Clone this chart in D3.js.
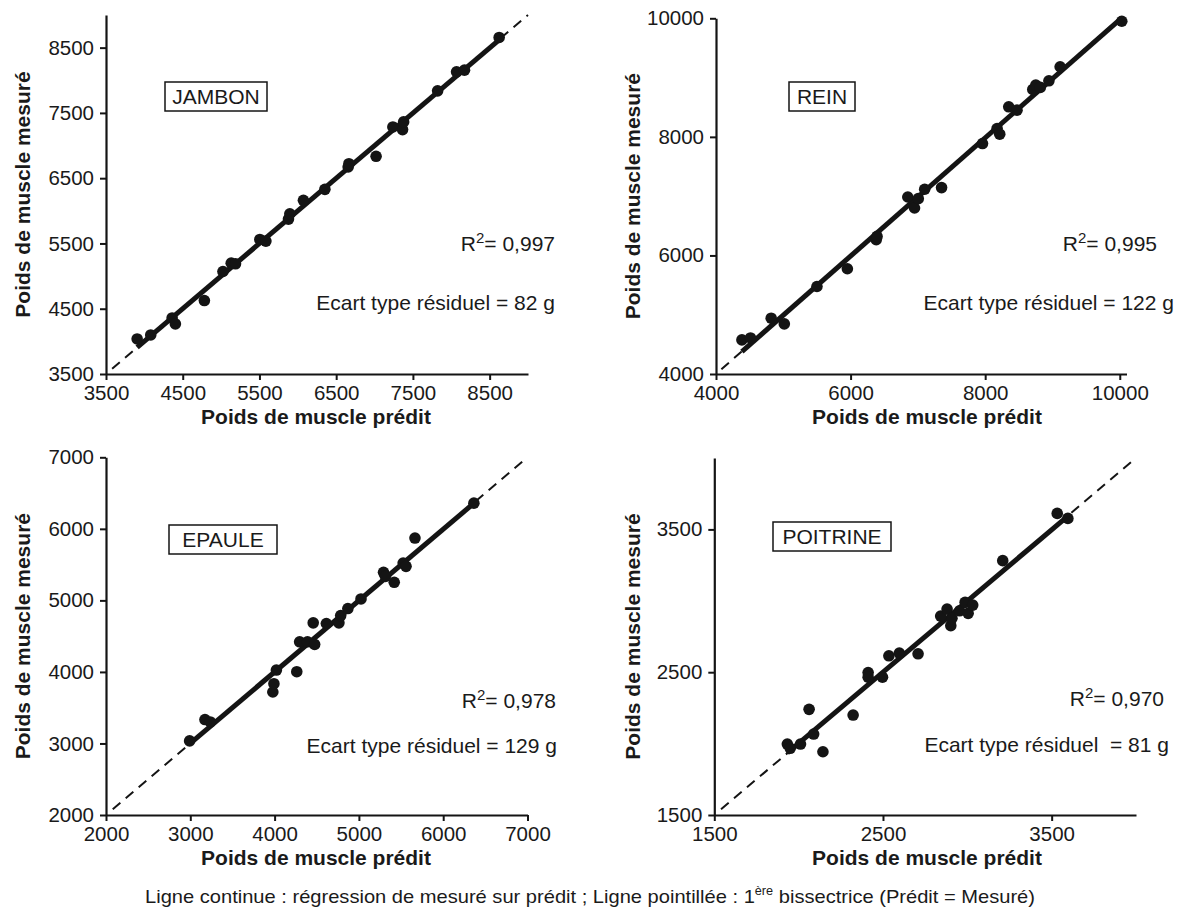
<!DOCTYPE html>
<html><head><meta charset="utf-8">
<script src="https://cdn.jsdelivr.net/npm/d3@7"></script>
<style>
body{margin:0;background:#fff;}
svg{display:block;}
text{font-family:"Liberation Sans",Arial,Helvetica,sans-serif;fill:#1a1a1a;}
</style></head><body>
<svg id="chart" width="1178" height="910"></svg>
<script>
// ---------- DATA ----------
const panelNames = ["JAMBON", "REIN", "EPAULE", "POITRINE"];
const r2Labels = ["0,997", "0,995", "0,978", "0,970"];
const sdLabels = ["Ecart type résiduel = 82 g", "Ecart type résiduel = 122 g", "Ecart type résiduel = 129 g", "Ecart type résiduel  = 81 g"];

const jambonPred = [3906,4083,4362,4404,4782,5024,5132,5188,5505,5584,5878,5896,6073,6353,6656,6666,7020,7239,7365,7379,7822,8069,8172,8624];
const jambonMes  = [4037,4098,4359,4267,4625,5070,5198,5188,5561,5536,5873,5955,6160,6329,6671,6722,6835,7285,7244,7362,7838,8129,8155,8656];

const reinPred = [4385,4513,4820,5015,5500,5952,6381,6393,6850,6950,7006,7101,7352,7960,8177,8216,8350,8473,8707,8752,8819,8947,9114,10030];
const reinMes  = [4575,4608,4941,4845,5476,5775,6265,6321,6986,6800,6958,7116,7144,7887,8141,8045,8507,8451,8800,8873,8834,8946,9183,9950];

const epaulePred = [2992,3174,3237,3979,3992,4021,4263,4297,4390,4458,4475,4614,4763,4784,4869,5025,5292,5314,5419,5525,5559,5665,6364];
const epauleMes  = [3036,3334,3301,3719,3835,4026,4003,4421,4421,4686,4384,4677,4686,4788,4886,5020,5392,5336,5253,5522,5476,5871,6359];

const poitrinePred = [1933,1950,2011,2062,2089,2144,2323,2412,2412,2497,2535,2597,2708,2842,2880,2902,2909,2954,2987,3005,3032,3210,3533,3596];
const poitrineMes  = [1997,1967,1997,2240,2067,1943,2200,2498,2465,2465,2615,2634,2629,2893,2942,2826,2877,2930,2989,2912,2970,3281,3612,3577];

const jambonTicks   = [3500,4500,5500,6500,7500,8500];
const reinTicks     = [4000,6000,8000,10000];
const epauleTicks   = [2000,3000,4000,5000,6000,7000];
const poitrineTicks = [1500,2500,3500];

const xDomains = [[3500,9000],[4000,10100],[2000,7000],[1500,4000]];
const yDomains = [[3500,9000],[4000,10000],[2000,7000],[1500,4000]];
const bisStart = [3580,4080,2080,1540];
const bisEnd   = [9000,10000,7000,4000];

const xTitle = "Poids de muscle prédit";
const yTitle = "Poids de muscle mesuré";

// ---------- LAYOUT ----------
const layout = [
  {x0:106, x1:528,   yB:374, yT:15,   box:[165,82,102,29],  r2:[555,251],  sd:[555,310],  xt:316, yt:23},
  {x0:716, x1:1126.5,yB:374, yT:18.3, box:[789,82,66,29],   r2:[1157,251], sd:[1174,310], xt:927, yt:633},
  {x0:106, x1:527.5, yB:815, yT:457.3,box:[169,525,108,29], r2:[556,708],  sd:[557,753],  xt:316, yt:23},
  {x0:714.3,x1:1136, yB:815, yT:458,  box:[773,522,118,29], r2:[1164,706], sd:[1169,752], xt:927, yt:633}
];
const preds = [jambonPred, reinPred, epaulePred, poitrinePred];
const mess  = [jambonMes, reinMes, epauleMes, poitrineMes];
const ticks = [jambonTicks, reinTicks, epauleTicks, poitrineTicks];

const svg = d3.select("#chart");
const ink = "#141414";

function fit(xs, ys){
  const mx = d3.mean(xs), my = d3.mean(ys);
  let sxy = 0, sxx = 0;
  xs.forEach((x,i)=>{ sxy += (x-mx)*(ys[i]-my); sxx += (x-mx)*(x-mx); });
  const b = sxy/sxx; return {a: my - b*mx, b};
}

layout.forEach((L, i) => {
  const x = d3.scaleLinear().domain(xDomains[i]).range([L.x0, L.x1]);
  const y = d3.scaleLinear().domain(yDomains[i]).range([L.yB, L.yT]);
  const g = svg.append("g");

  // axes
  const xa = g.append("g").attr("transform", `translate(0,${L.yB})`)
    .call(d3.axisBottom(x).tickValues(ticks[i]).tickFormat(d3.format("d")).tickSize(6).tickSizeOuter(0).tickPadding(5));
  const ya = g.append("g").attr("transform", `translate(${L.x0},0)`)
    .call(d3.axisLeft(y).tickValues(ticks[i]).tickFormat(d3.format("d")).tickSize(6).tickSizeOuter(0).tickPadding(6));
  [xa, ya].forEach(a => {
    a.select(".domain").attr("stroke", ink).attr("stroke-width", 2.2);
    a.selectAll(".tick line").attr("stroke", ink).attr("stroke-width", 2);
    a.selectAll(".tick text").attr("font-size", 20.5).attr("fill", "#1a1a1a")
      .style("font-family", "'Liberation Sans',Arial,sans-serif");
  });

  // bisector (dashed)
  g.append("line")
    .attr("x1", x(bisStart[i])).attr("y1", y(bisStart[i]))
    .attr("x2", x(bisEnd[i])).attr("y2", y(bisEnd[i]))
    .attr("stroke", ink).attr("stroke-width", 2).attr("stroke-dasharray", "10,7");

  // regression line
  const f = fit(preds[i], mess[i]);
  const xmin = d3.min(preds[i]), xmax = d3.max(preds[i]);
  g.append("line")
    .attr("x1", x(xmin)).attr("y1", y(f.a + f.b*xmin))
    .attr("x2", x(xmax)).attr("y2", y(f.a + f.b*xmax))
    .attr("stroke", ink).attr("stroke-width", 5);

  // points
  g.selectAll("circle.pt").data(preds[i].map((p,k)=>[p, mess[i][k]])).enter()
    .append("circle").attr("class","pt")
    .attr("cx", d => x(d[0])).attr("cy", d => y(d[1])).attr("r", 5.8).attr("fill", ink);

  // name box
  const [bx, by, bw, bh] = L.box;
  g.append("rect").attr("x", bx).attr("y", by).attr("width", bw).attr("height", bh)
    .attr("fill", "#fff").attr("stroke", ink).attr("stroke-width", 1.5);
  g.append("text").attr("x", bx + bw/2).attr("y", by + bh/2 + 7.5).attr("text-anchor", "middle")
    .attr("font-size", 21).text(panelNames[i]);

  // R2 annotation
  const rt = g.append("text").attr("x", L.r2[0]).attr("y", L.r2[1]).attr("text-anchor", "end").attr("font-size", 21);
  rt.append("tspan").text("R");
  rt.append("tspan").attr("font-size", 15).attr("dy", -8).text("2");
  rt.append("tspan").attr("dy", 8).text("= " + r2Labels[i]);

  g.append("text").attr("x", L.sd[0]).attr("y", L.sd[1]).attr("text-anchor", "end")
    .attr("font-size", 21).attr("xml:space","preserve").style("white-space","pre").text(sdLabels[i]);

  // axis titles
  g.append("text").attr("x", L.xt).attr("y", L.yB + 50).attr("text-anchor", "middle")
    .attr("font-size", 21).attr("font-weight", "bold").text(xTitle);
  g.append("text").attr("transform", `translate(${L.yt},${(L.yB + L.yT)/2}) rotate(-90)`)
    .attr("text-anchor", "middle").attr("dy", 7).attr("font-size", 21).attr("font-weight", "bold").text(yTitle);
});

// footer
const ft = svg.append("text").attr("x", 590).attr("y", 903).attr("text-anchor", "middle").attr("font-size", 19)
  .attr("textLength", 890).attr("lengthAdjust", "spacingAndGlyphs");
ft.append("tspan").text("Ligne continue : régression de mesuré sur prédit ; Ligne pointillée : 1");
ft.append("tspan").attr("font-size", 12).attr("dy", -8).text("ère");
ft.append("tspan").attr("dy", 8).text(" bissectrice (Prédit = Mesuré)");
</script>
</body></html>
